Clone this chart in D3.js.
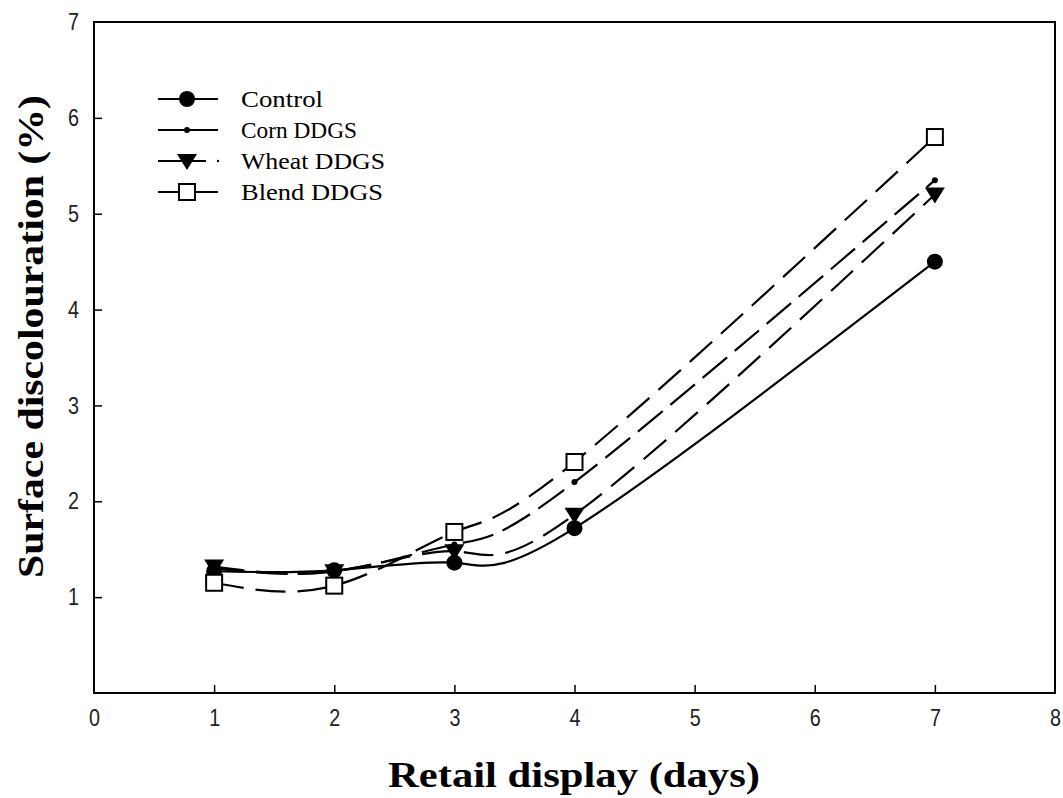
<!DOCTYPE html>
<html><head><meta charset="utf-8">
<script src="https://cdn.jsdelivr.net/npm/d3@7"></script>
<style>body{margin:0;background:#fff;} svg{display:block;}</style>
</head><body>
<svg id="c" width="1063" height="798"></svg>
<script>
const days = [1, 2, 3, 4, 7];
const control = [1.27, 1.28, 1.36, 1.72, 4.50];
const corn    = [1.30, 1.27, 1.55, 2.20, 5.35];
const wheat   = [1.32, 1.27, 1.48, 1.86, 5.20];
const blend   = [1.15, 1.12, 1.68, 2.41, 5.80];
const xTicks = [0,1,2,3,4,5,6,7,8];
const yTicks = [1,2,3,4,5,6,7];
const seriesNames = ["Control", "Corn DDGS", "Wheat DDGS", "Blend DDGS"];
const legendWidths = [82, 116, 144, 142];

const svg = d3.select("#c");
const m = {l:94, r:1055, t:22, b:693};
const x = d3.scaleLinear().domain([0,8]).range([m.l, m.r]);
const y = d3.scaleLinear().domain([0,7]).range([m.b, m.t]);

svg.append("rect").attr("x", m.l).attr("y", m.t).attr("width", m.r-m.l).attr("height", m.b-m.t)
  .attr("fill","none").attr("stroke","#000").attr("stroke-width",2);

const xa = svg.append("g").attr("transform",`translate(0,${m.b})`)
  .call(d3.axisBottom(x).tickValues(xTicks).tickSize(-8).tickPadding(16).tickFormat(d3.format("d")));
const ya = svg.append("g").attr("transform",`translate(${m.l},0)`)
  .call(d3.axisLeft(y).tickValues(yTicks).tickSize(-8).tickPadding(15).tickFormat(d3.format("d")));
[xa, ya].forEach(a => {
  a.select(".domain").remove();
  a.attr("font-size", null);
  a.selectAll(".tick line").attr("stroke","#000").attr("stroke-width",1.5);
  a.selectAll(".tick text").style("font-family","Arial, 'Liberation Sans', sans-serif").style("font-size","24px").attr("fill","#222")
    .attr("textLength", 11).attr("lengthAdjust","spacingAndGlyphs");
});
xa.selectAll(".tick").filter(d => d===0 || d===8).select("line").remove();
ya.selectAll(".tick").filter(d => d===7).select("line").remove();
xa.selectAll(".tick text").attr("dy","0.71em");

const line = d3.line().x(d => x(d[0])).y(d => y(d[1])).curve(d3.curveNatural);
const series = [
  {vals: control, dash: null, marker: "circle"},
  {vals: corn, dash: "32,10", marker: "dot"},
  {vals: wheat, dash: "30,12", marker: "tri"},
  {vals: blend, dash: "30,12", marker: "square"}
];

function drawMarker(g, type, cx, cy) {
  if (type === "circle") g.append("circle").attr("cx",cx).attr("cy",cy).attr("r",8).attr("fill","#000");
  else if (type === "dot") g.append("circle").attr("cx",cx).attr("cy",cy).attr("r",3).attr("fill","#000");
  else if (type === "tri") g.append("path").attr("d",`M${cx-10},${cy-7}L${cx+10},${cy-7}L${cx},${cy+9}Z`).attr("fill","#000");
  else if (type === "square") g.append("rect").attr("x",cx-8).attr("y",cy-8).attr("width",16).attr("height",16).attr("fill","#fff").attr("stroke","#000").attr("stroke-width",2);
}

series.forEach(s => {
  const pts = days.map((d,i) => [d, s.vals[i]]);
  svg.append("path").datum(pts).attr("d", line).attr("fill","none").attr("stroke","#000")
    .attr("stroke-width",2.2).attr("stroke-dasharray", s.dash);
});
series.forEach(s => {
  const g = svg.append("g");
  days.forEach((d,i) => drawMarker(g, s.marker, x(d), y(s.vals[i])));
});

const lg = svg.append("g");
const rows = [99, 130, 161, 192];
seriesNames.forEach((n,i) => {
  const ry = rows[i];
  if (i === 2) {
    lg.append("line").attr("x1",158).attr("x2",206).attr("y1",ry).attr("y2",ry).attr("stroke","#000").attr("stroke-width",2.2);
    lg.append("circle").attr("cx",218).attr("cy",ry).attr("r",1.2).attr("fill","#000");
  } else {
    lg.append("line").attr("x1",158).attr("x2",218).attr("y1",ry).attr("y2",ry).attr("stroke","#000").attr("stroke-width",2.2);
  }
  drawMarker(lg, series[i].marker, 187, ry);
  lg.append("text").attr("x",241).attr("y",ry+8).text(n)
    .attr("textLength", legendWidths[i]).attr("lengthAdjust","spacingAndGlyphs")
    .attr("font-family","'Times New Roman', 'Liberation Serif', serif").attr("font-size",23).attr("fill","#000");
});

svg.append("text").attr("x",388).attr("y",787).text("Retail display (days)")
  .attr("textLength",372).attr("lengthAdjust","spacingAndGlyphs")
  .attr("font-family","'Times New Roman', 'Liberation Serif', serif").attr("font-weight","bold").attr("font-size",36);
svg.append("text").attr("transform","translate(43,578) rotate(-90)").text("Surface discolouration (%)")
  .attr("textLength",483).attr("lengthAdjust","spacingAndGlyphs")
  .attr("font-family","'Times New Roman', 'Liberation Serif', serif").attr("font-weight","bold").attr("font-size",36);
</script>
</body></html>
